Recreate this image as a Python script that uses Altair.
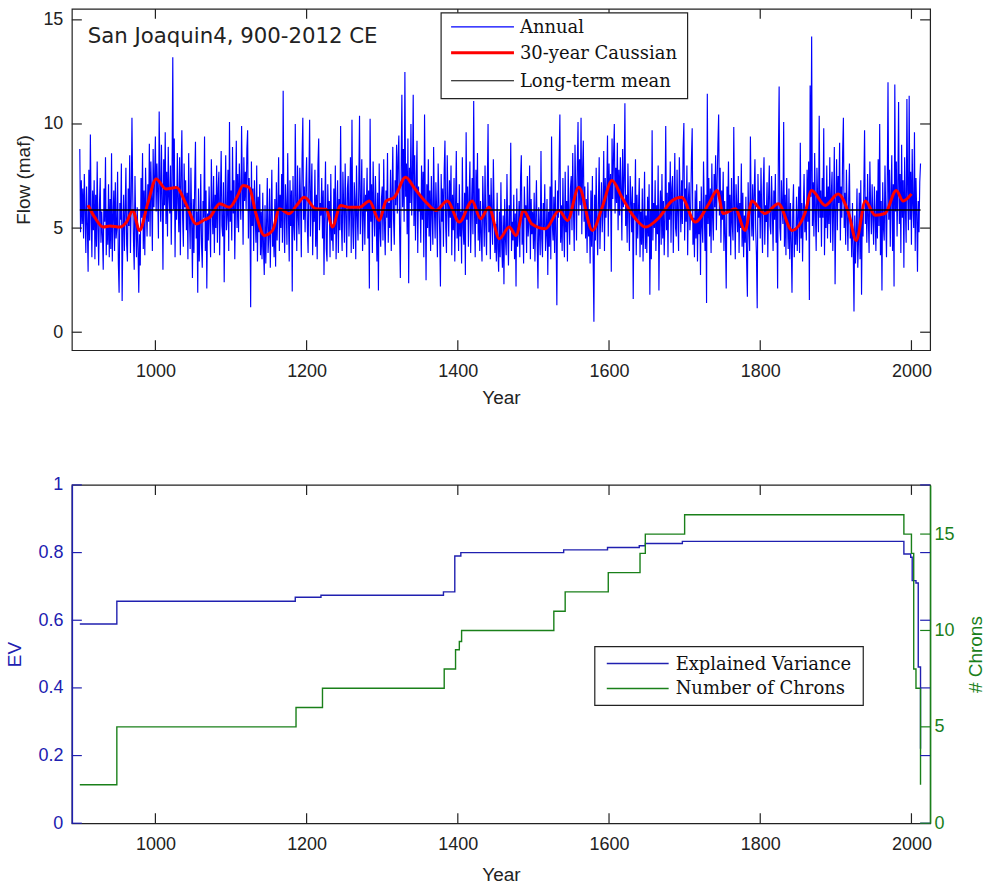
import altair as alt
import pandas as pd

# ---------------- data: annual flow (maf), one list per century ----------------
flow_900s = [
    8.8, 4.8, 7.3, 5.2, 6.9, 4.5, 7.6, 5.9, 3.8, 7.0,
    5.1, 2.9, 7.8, 4.4, 9.5, 5.6, 3.6, 6.8, 4.9, 7.3,
    3.5, 6.6, 4.1, 8.2, 5.0, 3.2, 6.1, 7.4, 4.3, 5.8,
    4.6, 3.0, 6.9, 5.3, 8.4, 3.7, 5.9, 4.2, 7.1, 3.6,
    6.4, 4.0, 8.6, 3.4, 5.5, 6.8, 3.9, 7.2, 4.5, 5.0,
    7.7, 3.3, 1.9, 6.2, 5.4, 8.1, 1.5, 4.8, 6.6, 3.9,
    5.8, 7.9, 4.2, 3.4, 6.9, 5.1, 8.5, 3.8, 6.3, 10.3,
    6.7, 4.4, 3.0, 7.5, 5.2, 3.6, 6.0, 4.1, 1.9, 4.7,
    3.2, 7.4, 5.5, 8.6, 4.0, 6.8, 3.7, 7.9, 5.9, 4.6,
    7.1, 5.3, 9.05, 4.6, 8.2, 6.4, 3.9, 8.8, 6.0, 7.5,
]
flow_1000s = [
    9.4, 5.8, 8.1, 6.7, 4.5, 10.6, 7.2, 5.3, 9.0, 6.4,
    3.0, 8.3, 6.1, 9.6, 5.2, 7.7, 4.6, 8.9, 6.5, 5.7,
    8.0, 4.2, 7.4, 13.2, 5.9, 9.3, 3.6, 7.0, 5.4, 8.6,
    6.2, 4.8, 8.4, 3.7, 7.6, 9.7, 5.5, 4.1, 8.1, 6.0,
    7.3, 4.9, 6.7, 3.5, 8.6, 5.6, 4.0, 7.9, 5.2, 2.6,
    6.4, 3.8, 7.2, 9.15, 4.5, 5.8, 1.9, 6.9, 3.4, 5.1,
    7.6, 4.2, 3.1, 6.3, 5.5, 9.4, 3.9, 6.8, 2.1, 5.7,
    4.4, 7.0, 5.3, 3.6, 8.3, 6.1, 4.7, 7.5, 3.8, 6.6,
    5.0, 8.0, 4.3, 6.9, 7.7, 3.7, 6.4, 8.7, 5.1, 4.6,
    7.2, 2.4, 6.0, 8.5, 4.9, 5.6, 7.8, 3.9, 10.1, 5.3,
]
flow_1100s = [
    6.8, 4.4, 8.9, 5.7, 7.3, 3.5, 6.2, 9.2, 5.0, 7.6,
    4.8, 8.1, 6.6, 5.4, 9.9, 7.0, 4.2, 8.4, 6.3, 7.7,
    5.9, 8.8, 9.7, 4.5, 7.4, 6.0, 1.2, 8.2, 5.1, 6.9,
    3.9, 7.3, 5.6, 4.3, 8.0, 3.4, 6.5, 4.8, 7.1, 3.7,
    5.8, 3.5, 6.7, 4.0, 2.75, 6.1, 3.3, 5.2, 7.4, 3.8,
    4.6, 6.9, 3.1, 5.5, 7.8, 4.1, 5.0, 3.6, 6.4, 3.15,
    7.2, 4.4, 5.9, 8.4, 3.9, 6.6, 5.0, 7.6, 4.3, 11.6,
    5.3, 3.8, 7.1, 6.0, 4.2, 8.6, 5.6, 3.4, 7.3, 5.1,
    6.8, 1.95, 7.5, 5.2, 4.4, 10.0, 6.3, 3.9, 8.0, 5.5,
    4.7, 7.9, 6.2, 3.6, 8.3, 10.3, 5.4, 7.0, 4.8, 6.9,
]
flow_1200s = [
    8.4, 5.0, 3.8, 7.2, 10.2, 4.6, 6.5, 8.1, 3.7, 6.0,
    5.3, 7.8, 4.1, 6.6, 3.5, 8.0, 9.3, 4.9, 6.2, 5.6,
    7.4, 4.5, 6.8, 2.75, 5.9, 8.2, 4.0, 3.4, 7.1, 5.5,
    6.3, 3.6, 7.6, 4.4, 5.0, 3.9, 6.9, 4.7, 8.0, 3.5,
    5.6, 7.3, 3.8, 6.4, 4.9, 9.9, 5.2, 3.9, 7.7, 6.1,
    4.3, 8.1, 5.7, 3.6, 6.9, 7.5, 4.6, 5.9, 8.4, 3.8,
    10.2, 5.1, 4.0, 7.2, 6.3, 3.5, 8.0, 5.6, 4.4, 7.0,
    10.4, 4.7, 6.1, 8.3, 3.9, 5.5, 7.4, 4.2, 6.6, 5.8,
    7.9, 4.5, 6.8, 2.1, 10.25, 5.3, 7.1, 3.8, 8.2, 5.9,
    4.6, 7.5, 5.8, 3.4, 6.7, 2.0, 8.1, 5.0, 4.1, 6.4,
]
flow_1300s = [
    7.0, 4.4, 8.3, 5.2, 3.7, 6.8, 5.5, 8.6, 4.3, 6.2,
    5.0, 7.8, 3.9, 6.6, 8.9, 5.4, 4.2, 7.3, 6.1, 9.0,
    5.7, 8.4, 9.45, 4.8, 2.6, 7.6, 11.4, 6.0, 8.8, 5.3,
    12.5, 6.5, 8.1, 4.7, 9.3, 2.35, 7.9, 6.2, 10.0, 5.6,
    7.4, 11.4, 5.1, 8.5, 4.4, 6.9, 9.2, 3.8, 7.0, 5.8,
    6.6, 4.3, 8.0, 5.4, 7.7, 3.6, 10.45, 6.2, 2.5, 7.1,
    5.0, 8.3, 4.6, 6.8, 3.9, 7.5, 5.7, 4.2, 8.9, 6.0,
    4.5, 7.2, 5.9, 3.6, 8.1, 6.4, 4.8, 2.2, 7.6, 5.3,
    6.9, 4.1, 7.8, 9.2, 5.0, 3.8, 8.5, 6.2, 4.6, 7.3,
    5.5, 8.0, 3.7, 6.6, 4.9, 7.4, 3.4, 6.1, 8.7, 4.5,
]
flow_1400s = [
    6.2, 3.9, 7.1, 4.6, 5.8, 3.3, 8.4, 5.0, 4.2, 6.7,
    2.75, 9.6, 5.4, 7.0, 4.1, 6.5, 8.2, 3.8, 5.9, 7.4,
    4.7, 11.1, 6.0, 3.6, 7.8, 5.2, 8.6, 4.4, 6.9, 3.9,
    6.3, 4.6, 3.4, 7.5, 5.8, 4.1, 8.0, 5.1, 3.7, 6.9,
    10.0, 4.8, 6.6, 3.5, 7.4, 5.5, 4.2, 8.3, 5.9, 3.8,
    5.2, 3.4, 6.7, 4.0, 2.9, 5.8, 3.6, 7.2, 4.3, 3.1,
    5.6, 2.3, 6.4, 4.5, 3.7, 7.6, 4.9, 3.2, 6.1, 5.0,
    9.1, 3.9, 5.3, 4.4, 6.6, 3.5, 5.7, 2.2, 6.9, 4.1,
    4.8, 6.3, 3.6, 7.4, 8.5, 4.2, 5.9, 3.3, 7.0, 5.5,
    6.1, 3.8, 7.5, 4.6, 5.2, 8.0, 3.5, 6.4, 4.7, 5.8,
]
flow_1500s = [
    4.0, 6.7, 3.4, 5.5, 7.3, 4.3, 2.1, 6.0, 4.9, 3.7,
    8.7, 4.5, 3.6, 6.2, 5.0, 7.1, 3.9, 4.7, 6.4, 2.75,
    5.8, 4.1, 7.0, 3.5, 9.4, 5.2, 4.4, 6.5, 3.8, 7.3,
    4.6, 1.3, 6.8, 5.5, 8.2, 10.45, 4.3, 6.1, 3.9, 7.4,
    5.1, 3.6, 7.7, 4.8, 6.3, 3.4, 8.0, 5.6, 4.2, 6.9,
    7.5, 4.9, 8.6, 5.8, 3.9, 9.0, 6.7, 4.4, 7.9, 10.1,
    5.6, 8.3, 6.1, 10.3, 4.7, 7.8, 9.2, 5.3, 7.0, 4.5,
    6.4, 3.8, 7.2, 4.6, 5.9, 3.3, 6.8, 4.1, 7.5, 3.6,
    0.5, 6.6, 4.4, 7.9, 5.1, 3.7, 6.3, 8.4, 4.0, 5.7,
    7.2, 4.8, 6.0, 8.7, 3.9, 7.4, 5.5, 6.8, 9.45, 4.6,
]
flow_1600s = [
    8.1, 5.9, 7.6, 2.9, 9.3, 6.4, 8.5, 10.0, 5.7, 7.9,
    6.2, 9.1, 4.9, 7.8, 5.6, 8.4, 6.9, 4.4, 8.8, 6.0,
    7.3, 11.0, 5.1, 6.6, 4.3, 8.1, 5.8, 3.9, 7.5, 6.4,
    4.8, 7.0, 1.6, 6.2, 5.5, 8.3, 3.7, 6.6, 4.5, 5.9,
    7.4, 3.6, 5.8, 4.2, 6.9, 3.4, 5.3, 7.7, 4.0, 5.6,
    3.8, 6.5, 4.6, 7.1, 1.8, 5.9, 3.5, 9.7, 4.4, 6.2,
    5.0, 7.3, 3.9, 6.1, 4.7, 8.0, 2.0, 5.6, 6.8, 4.2,
    7.6, 4.5, 6.3, 3.7, 5.5, 9.9, 4.9, 6.7, 3.6, 7.2,
    5.4, 8.2, 4.3, 6.9, 7.5, 3.8, 6.1, 8.6, 5.0, 4.6,
    7.8, 5.6, 3.9, 8.4, 6.6, 4.8, 7.3, 5.2, 8.8, 10.05,
]
flow_1700s = [
    4.4, 6.9, 5.3, 8.0, 3.7, 6.4, 7.2, 4.9, 5.8, 8.3,
    9.8, 4.2, 5.5, 3.6, 6.8, 4.5, 7.1, 3.4, 5.9, 4.7,
    6.3, 2.75, 7.0, 5.1, 4.3, 8.2, 5.8, 3.9, 6.6, 1.4,
    11.45, 5.2, 7.4, 4.6, 6.9, 3.8, 8.1, 5.5, 4.4, 7.6,
    6.0, 8.5, 4.9, 7.2, 9.0, 10.45, 5.6, 7.9, 4.3, 6.8,
    5.4, 7.7, 3.9, 6.3, 4.5, 2.1, 7.0, 5.8, 8.2, 4.6,
    6.6, 3.7, 7.4, 5.2, 4.4, 9.85, 5.9, 3.5, 7.1, 6.0,
    4.8, 7.5, 3.8, 6.2, 5.0, 8.1, 4.1, 6.7, 3.6, 5.6,
    4.3, 6.5, 3.4, 1.7, 7.2, 5.1, 3.9, 9.4, 6.0, 4.6,
    7.1, 4.4, 6.6, 8.3, 5.0, 3.7, 1.15, 7.6, 5.5, 6.8,
]
flow_1800s = [
    4.5, 7.9, 5.6, 3.8, 6.9, 8.4, 4.2, 6.1, 5.3, 7.2,
    3.6, 6.4, 8.0, 5.1, 4.7, 7.5, 5.9, 3.9, 6.8, 5.4,
    7.6, 4.3, 6.2, 2.1, 8.5, 11.8, 5.0, 4.4, 7.3, 6.0,
    5.2, 10.1, 4.1, 6.6, 3.7, 7.4, 5.5, 4.0, 6.9, 3.5,
    6.2, 4.3, 1.9, 5.8, 7.1, 3.6, 5.0, 4.2, 6.5, 3.9,
    5.6, 7.0, 3.8, 9.1, 4.5, 6.2, 3.4, 5.9, 7.6, 4.8,
    6.0, 4.4, 7.8, 5.3, 8.2, 1.55, 11.85, 6.5, 14.2, 5.1,
    7.2, 4.6, 8.6, 5.7, 3.9, 7.9, 6.3, 4.8, 10.4, 5.5,
    6.8, 4.1, 7.4, 5.5, 9.8, 3.7, 6.5, 5.0, 8.0, 4.5,
    7.0, 5.2, 8.4, 4.3, 6.6, 7.7, 3.9, 6.0, 8.9, 2.3,
]
flow_1900s = [
    5.8, 8.3, 4.9, 7.5, 6.2, 9.1, 4.4, 7.0, 5.5, 8.6,
    10.3, 5.0, 6.7, 4.2, 7.8, 5.6, 3.9, 6.4, 8.1, 4.5,
    5.3, 3.6, 6.2, 4.0, 1.0, 5.6, 3.3, 4.8, 6.9, 3.1,
    4.4, 6.7, 3.5, 7.3, 1.8, 5.9, 4.6, 6.8, 9.7, 5.2,
    6.5, 4.3, 7.6, 5.4, 3.8, 8.2, 6.0, 4.7, 7.1, 5.5,
    4.2, 7.0, 5.6, 3.9, 6.8, 4.5, 8.3, 5.1, 10.0, 3.7,
    6.3, 2.0, 7.2, 5.0, 4.4, 8.0, 5.7, 3.6, 6.9, 12.0,
    5.4, 7.8, 4.1, 6.6, 8.5, 3.9, 7.1, 2.2, 11.9, 5.8,
    8.2, 4.6, 6.9, 11.05, 5.2, 7.6, 3.8, 9.0, 5.5, 7.3,
    3.1, 8.4, 5.9, 4.3, 11.2, 6.8, 4.9, 11.35, 5.4, 7.7,
]
flow_2000s = [4.2, 8.8, 6.1, 5.0, 9.6, 3.9, 7.4, 5.7, 2.9, 6.3, 4.8, 7.2, 8.1]

century_starts = [900, 1000, 1100, 1200, 1300, 1400, 1500, 1600, 1700, 1800, 1900, 2000]
century_lists = [flow_900s, flow_1000s, flow_1100s, flow_1200s, flow_1300s, flow_1400s,
                 flow_1500s, flow_1600s, flow_1700s, flow_1800s, flow_1900s, flow_2000s]

# 30-year Gaussian smooth
smooth_years = [911, 920, 931, 940, 953, 962, 970, 979, 990, 1001, 1014, 1028, 1040, 1054, 1065,
                1072, 1085, 1098, 1108, 1116, 1124, 1133, 1144, 1155, 1164, 1177, 1187, 1197,
                1212, 1226, 1234, 1245, 1256, 1270, 1283, 1296, 1305, 1316, 1331, 1342, 1358,
                1371, 1386, 1402, 1419, 1430, 1441, 1455, 1468, 1477, 1487, 1498, 1516, 1534,
                1545, 1560, 1578, 1591, 1604, 1617, 1635, 1648, 1666, 1683, 1696, 1714, 1732,
                1743, 1751, 1767, 1780, 1789, 1806, 1824, 1842, 1859, 1868, 1886, 1903, 1917,
                1927, 1939, 1952, 1965, 1980, 1989, 2000]
smooth_vals = [6.1, 5.5, 5.05, 5.1, 5.05, 5.3, 5.85, 4.89, 6.2, 7.36, 6.88, 6.95, 6.2, 5.2, 5.4,
               5.52, 6.17, 6.0, 6.5, 7.04, 6.95, 5.69, 4.65, 4.89, 5.93, 5.69, 6.1, 6.48,
               5.93, 5.9, 5.05, 6.09, 6.0, 6.0, 6.3, 5.37, 6.3, 6.48, 7.44, 6.95, 6.24,
               5.85, 6.3, 5.29, 6.3, 5.45, 6.0, 4.49, 5.05, 4.65, 5.85, 5.2, 4.97, 5.85,
               5.37, 6.96, 4.89, 6.0, 7.28, 6.48, 5.45, 5.05, 5.5, 6.3, 6.48, 5.29, 6.17,
               6.8, 5.7, 5.93, 4.89, 6.3, 5.7, 6.17, 4.89, 5.7, 6.8, 6.09, 6.64, 5.7,
               4.41, 6.3, 5.62, 5.7, 6.8, 6.3, 6.64]

mean_flow = [5.87]
mean_span = [900, 2012]

# Explained variance (stepwise)
ev_years = [900, 949, 1185, 1219, 1381, 1396, 1404, 1540, 1598, 1640, 1648, 1697,
            1990, 1999, 2001, 2006, 2009, 2012]
ev_vals = [0.589, 0.656, 0.668, 0.674, 0.684, 0.790, 0.800, 0.808, 0.815, 0.820, 0.827, 0.833,
           0.796, 0.786, 0.717, 0.710, 0.462, 0.22]

# Number of chronologies (stepwise)
chron_years = [900, 949, 1186, 1221, 1382, 1397, 1402, 1405, 1527, 1542, 1599, 1641, 1648,
               1700, 1990, 2000, 2003, 2006, 2012]
chron_vals = [2, 5, 6, 7, 8, 9, 9.43, 10, 11, 12, 13, 14, 15, 16, 15, 14, 8, 7, 2]

x_ticks = [1000, 1200, 1400, 1600, 1800, 2000]
flow_ticks = [0, 5, 10, 15]
ev_ticks = [0, 0.2, 0.4, 0.6, 0.8, 1]
chron_ticks = [0, 5, 10, 15]

top_title = "San Joaquin4, 900-2012 CE"
top_legend = ["Annual", "30-year Caussian", "Long-term mean"]
bottom_legend = ["Explained Variance", "Number of Chrons"]

# ---------------- build tables ----------------
years, flows = [], []
for start, vals in zip(century_starts, century_lists):
    for i, v in enumerate(vals):
        years.append(start + i)
        flows.append(v)
df_annual = pd.DataFrame({"year": years, "flow": flows})
df_smooth = pd.DataFrame({"year": smooth_years, "flow": smooth_vals})
df_mean = pd.DataFrame({"year": [mean_span[0]], "year2": [mean_span[1]], "flow": mean_flow})
df_ev = pd.DataFrame({"year": ev_years, "ev": ev_vals})
df_ch = pd.DataFrame({"year": chron_years, "n": chron_vals})

# ---------------- styling ----------------
W, H1, H2 = 860, 342, 339
FRAME = "#222222"
BLUE = "#0000ff"
EVBLUE = "#2020b0"
GREEN = "#1a801a"
SANS = "Liberation Sans"
SERIF = "DejaVu Serif"
TICK = 10

xsc = alt.Scale(domain=[889.5, 2024.7], nice=False, zero=False)
ysc_top = alt.Scale(domain=[-0.863, 15.527], nice=False, zero=False)
ysc_ev = alt.Scale(domain=[0, 1], nice=False, zero=False)
ysc_ch = alt.Scale(domain=[0, 17.55], nice=False, zero=False)


def x_axis(tpad):
    return alt.Axis(values=x_ticks, format="d", title="Year", domain=False, ticks=False,
                    grid=False, labelPadding=12, titlePadding=tpad)


def flow_axis():
    return alt.Axis(values=flow_ticks, title="Flow (maf)", domain=False, ticks=False,
                    grid=False, labelPadding=9, titlePadding=9)


def make_X(tpad):
    def X(field):
        return alt.X(field, scale=xsc, axis=x_axis(tpad), title="Year")
    return X


def xtick_layers(h, X):
    d = pd.DataFrame({"year": x_ticks})
    bot = alt.Chart(d).mark_rule(color=FRAME, strokeWidth=1.2).encode(
        x=X("year:Q"), y=alt.value(h), y2=alt.value(h - TICK))
    top = alt.Chart(d).mark_rule(color=FRAME, strokeWidth=1.2).encode(
        x=X("year:Q"), y=alt.value(0), y2=alt.value(TICK))
    return [bot, top]


def ytick_layer(vals, yenc_fn, color, side):
    d = pd.DataFrame({"v": vals})
    if side == "left":
        xa, xb = 0, TICK
    else:
        xa, xb = W - TICK, W
    return alt.Chart(d).mark_rule(color=color, strokeWidth=1.2).encode(
        y=yenc_fn("v:Q"), x=alt.value(xa), x2=alt.value(xb))


def legend_layers(labels, colors, widths, box, line_x, ys, text_x):
    layers = [alt.Chart(pd.DataFrame({"k": [0]})).mark_rect(
        fill="white", stroke=FRAME, strokeWidth=1.2).encode(
        x=alt.value(box[0]), x2=alt.value(box[1]), y=alt.value(box[2]), y2=alt.value(box[3]))]
    for lab, col, wdt, yy in zip(labels, colors, widths, ys):
        d = pd.DataFrame({"label": [lab]})
        layers.append(alt.Chart(d).mark_rule(color=col, strokeWidth=wdt).encode(
            x=alt.value(line_x[0]), x2=alt.value(line_x[1]), y=alt.value(yy)))
        layers.append(alt.Chart(d).mark_text(
            align="left", baseline="middle", font=SERIF, fontSize=18, color="#111").encode(
            text="label:N", x=alt.value(text_x), y=alt.value(yy + 1)))
    return layers


# ---------------- top panel ----------------
Xt = make_X(8)


def Ytop(field):
    return alt.Y(field, scale=ysc_top, axis=flow_axis(), title="Flow (maf)")


annual = alt.Chart(df_annual).mark_line(color=BLUE, strokeWidth=1.15).encode(
    x=Xt("year:Q"), y=Ytop("flow:Q"))
smooth = alt.Chart(df_smooth).mark_line(color="#ff0000", strokeWidth=3, interpolate="monotone").encode(
    x=Xt("year:Q"), y=Ytop("flow:Q"))
mean_rule = alt.Chart(df_mean).mark_rule(color="black", strokeWidth=1.3).encode(
    x=Xt("year:Q"), x2="year2:Q", y=Ytop("flow:Q"))
title_txt = alt.Chart(pd.DataFrame({"t": [top_title]})).mark_text(
    align="left", baseline="alphabetic", font="DejaVu Sans", fontSize=21.3, color="#222").encode(
    text="t:N", x=alt.value(16), y=alt.value(34))

top_layers = [annual, smooth, mean_rule] + xtick_layers(H1, Xt) + [
    ytick_layer(flow_ticks, Ytop, FRAME, "left"),
    ytick_layer(flow_ticks, Ytop, FRAME, "right"),
    title_txt,
] + legend_layers(top_legend, [BLUE, "#ff0000", "black"], [1.2, 3, 1.2],
                  (370, 617, 4, 90), (380, 443), [18, 44, 72], 449)
top = alt.layer(*top_layers).properties(width=W, height=H1)

# ---------------- bottom panel ----------------
Xb = make_X(12)

ev_line = alt.Chart(df_ev).mark_line(color=EVBLUE, strokeWidth=1.4, interpolate="step-after").encode(
    x=Xb("year:Q"),
    y=alt.Y("ev:Q", scale=ysc_ev,
            axis=alt.Axis(orient="left", values=ev_ticks, format="~g", title="EV",
                          labelColor=EVBLUE, titleColor=EVBLUE, domain=True,
                          domainColor=EVBLUE, domainWidth=1.5, ticks=False, grid=False,
                          labelPadding=9, titlePadding=13)))
ch_line = alt.Chart(df_ch).mark_line(color=GREEN, strokeWidth=1.4, interpolate="step-after").encode(
    x=Xb("year:Q"),
    y=alt.Y("n:Q", scale=ysc_ch,
            axis=alt.Axis(orient="right", values=chron_ticks, format="d", title="# Chrons",
                          labelColor=GREEN, titleColor=GREEN, domain=True,
                          domainColor=GREEN, domainWidth=1.5, ticks=False, grid=False,
                          labelPadding=4, titlePadding=12, titleAngle=270,
                          titleBaseline="top")))


def Yev(field):
    return alt.Y(field, scale=ysc_ev, axis=None)


def Ych(field):
    return alt.Y(field, scale=ysc_ch, axis=None)


bottom_layers = [ev_line, ch_line] + xtick_layers(H2, Xb) + [
    ytick_layer(ev_ticks, Yev, EVBLUE, "left"),
    ytick_layer(ev_ticks, Yev, EVBLUE, "right"),
    ytick_layer(chron_ticks, Ych, GREEN, "right"),
] + legend_layers(bottom_legend, [EVBLUE, GREEN], [1.4, 1.4],
                  (524, 793, 162, 221), (536, 598), [179, 204], 605)
bottom = alt.layer(*bottom_layers).resolve_scale(y="independent").properties(width=W, height=H2)

chart = alt.vconcat(top, bottom, spacing=67).properties(
    background="white",
    padding={"left": 5, "top": 6, "right": 2, "bottom": 2},
).configure_view(stroke=FRAME, strokeWidth=1.2).configure_axis(
    labelFont=SANS, labelFontSize=18, labelColor="#222",
    titleFont=SANS, titleFontSize=19, titleFontWeight="normal", titleColor="#222",
)

chart.save("out.html", embed_options={"renderer": "svg", "actions": False})
